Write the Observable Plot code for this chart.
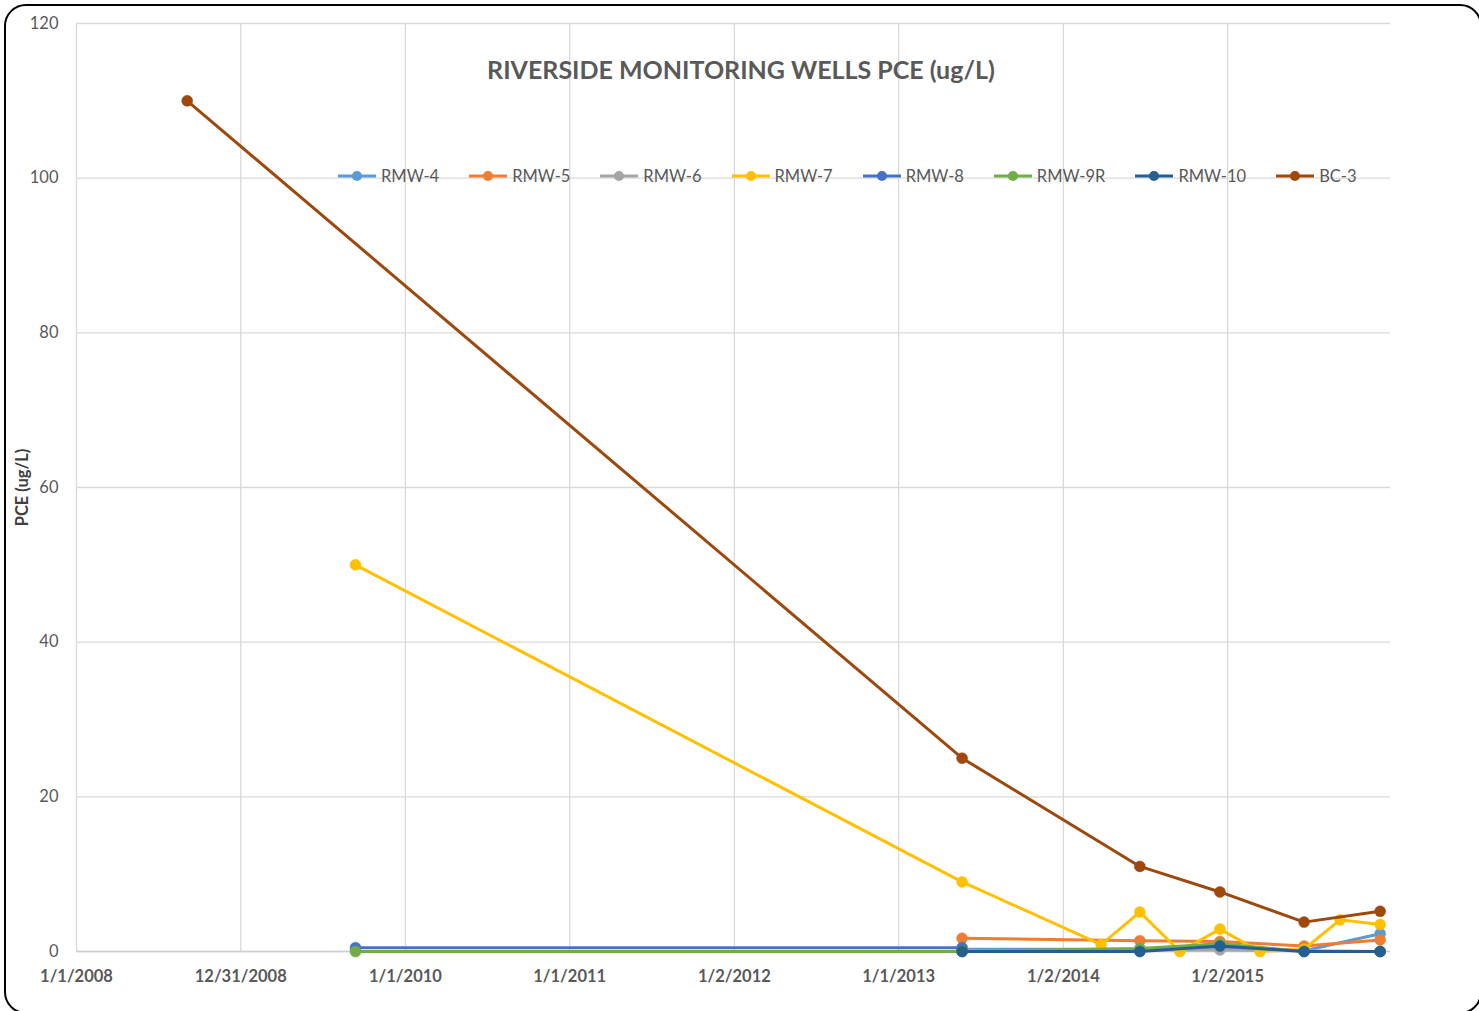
<!DOCTYPE html>
<html><head><meta charset="utf-8">
<script src="https://cdn.jsdelivr.net/npm/d3@7"></script>
<script src="https://cdn.jsdelivr.net/npm/@observablehq/plot@0.6"></script>
<style>
body{margin:0;background:#fff;font-family:Lato,"Open Sans",sans-serif;}
#wrap{position:relative;width:1479px;height:1011px;overflow:hidden;background:#fff;}
#chart{position:absolute;left:0;top:0;}
#frame{position:absolute;left:4px;top:4px;width:1478px;height:1010px;border:2.5px solid #000;border-radius:22px;pointer-events:none;box-sizing:border-box;}
#title{position:absolute;left:76px;width:1330px;top:54px;text-align:center;font-weight:bold;font-size:25px;color:#595959;}
#legend{position:absolute;left:337px;top:166px;display:flex;gap:29px;align-items:center;font-size:16.5px;color:#595959;}
.item{display:flex;align-items:center;gap:4px;}
.item svg{display:block;}
</style>
</head><body>
<div id="wrap">
  <div id="chart"></div>
  <div id="title"></div>
  <div id="legend"></div>
  <div id="frame"></div>
</div>
<script>
const chartTitle = "RIVERSIDE MONITORING WELLS PCE (ug/L)";
const yLabel = "PCE (ug/L)";
const seriesNames = ["RMW-4","RMW-5","RMW-6","RMW-7","RMW-8","RMW-9R","RMW-10","BC-3"];
const seriesColors = ["#5B9BD5","#ED7D31","#A5A5A5","#FFC000","#4472C4","#70AD47","#255E91","#9E480E"];
const sampleDates = ["2008-09-03","2009-09-12","2013-05-22","2014-03-27","2014-06-21","2014-09-18","2014-12-16","2015-03-15","2015-06-21","2015-09-09","2015-12-07"];
const rmw4  = [null, null, 0.3, null, 0.3, null, 0.5, null, 0.1, null, 2.3];
const rmw5  = [null, null, 1.7, null, 1.4, null, 1.3, null, 0.7, null, 1.5];
const rmw6  = [null, null, 0.1, null, 0.2, null, 0.2, null, 0.1, null, 0];
const rmw7  = [null, 50, 9, 0.9, 5.1, 0, 2.9, 0, 0.3, 4.1, 3.5];
const rmw8  = [null, 0.5, 0.5, null, null, null, null, null, null, null, null];
const rmw9r = [null, 0, 0, null, 0.4, null, 1.0, null, 0, null, 0];
const rmw10 = [null, null, 0, null, 0, null, 0.7, null, 0, null, 0];
const bc3   = [110, null, 25, null, 11, null, 7.7, null, 3.8, null, 5.2];
const seriesValues = [rmw4, rmw5, rmw6, rmw7, rmw8, rmw9r, rmw10, bc3];
const xTickDates = ["2008-01-01","2008-12-31","2010-01-01","2011-01-01","2012-01-02","2013-01-01","2014-01-02","2015-01-02"];
const xTickLabels = ["1/1/2008","12/31/2008","1/1/2010","1/1/2011","1/2/2012","1/1/2013","1/2/2014","1/2/2015"];
const yTicks = [0, 20, 40, 60, 80, 100, 120];
const xDomain = ["2008-01-01", "2015-12-30"];

document.getElementById("title").textContent = chartTitle;

const rows = seriesNames.flatMap((s, i) =>
  sampleDates.map((d, j) => ({series: s, date: new Date(d), value: seriesValues[i][j]}))
    .filter(r => r.value != null));

const tickDates = xTickDates.map(d => new Date(d));
const labelOf = new Map(tickDates.map((d, i) => [+d, xTickLabels[i]]));

const seriesMarks = seriesNames.flatMap((s, i) => {
  const data = rows.filter(r => r.series === s);
  return [
    Plot.line(data, {x: "date", y: "value", stroke: seriesColors[i], strokeWidth: 3, strokeLinejoin: "round", strokeLinecap: "round"}),
    Plot.dot(data, {x: "date", y: "value", r: 5.5, fill: seriesColors[i], stroke: seriesColors[i], strokeWidth: 0.5})
  ];
});

const chart = Plot.plot({
  width: 1479, height: 1011,
  marginLeft: 76, marginRight: 89, marginTop: 23, marginBottom: 60,
  style: {fontFamily: "Lato, 'Open Sans', sans-serif", background: "transparent"},
  x: {type: "utc", domain: xDomain.map(d => new Date(d))},
  y: {domain: [0, 120]},
  marks: [
    Plot.gridX(tickDates, {stroke: "#D9D9D9", strokeOpacity: 1, strokeWidth: 1.3}),
    Plot.gridY(yTicks, {stroke: "#D9D9D9", strokeOpacity: 1, strokeWidth: 1.3}),
    Plot.ruleY([0], {stroke: "#D0D0D0", strokeWidth: 1.5}),
    Plot.axisY(yTicks, {tickSize: 0, tickPadding: 18, fontSize: 16.5, fill: "#595959", label: null}),
    Plot.axisX(tickDates, {tickSize: 0, tickPadding: 19, fontSize: 16.5, fontWeight: "bold", fill: "#595959", label: null, tickFormat: d => labelOf.get(+d)}),
    Plot.text([yLabel], {frameAnchor: "left", textAnchor: "middle", dx: -54, rotate: -90, fontSize: 16.5, fontWeight: "bold", fill: "#404040", text: d => d}),
    ...seriesMarks
  ]
});
document.getElementById("chart").appendChild(chart);

const legend = document.getElementById("legend");
seriesNames.forEach((s, i) => {
  const item = document.createElement("div");
  item.className = "item";
  item.innerHTML = `<svg width="40" height="12"><line x1="1" y1="6" x2="39" y2="6" stroke="${seriesColors[i]}" stroke-width="3"/><circle cx="20" cy="6" r="5" fill="${seriesColors[i]}"/></svg><span>${s}</span>`;
  legend.appendChild(item);
});
</script>
</body></html>
